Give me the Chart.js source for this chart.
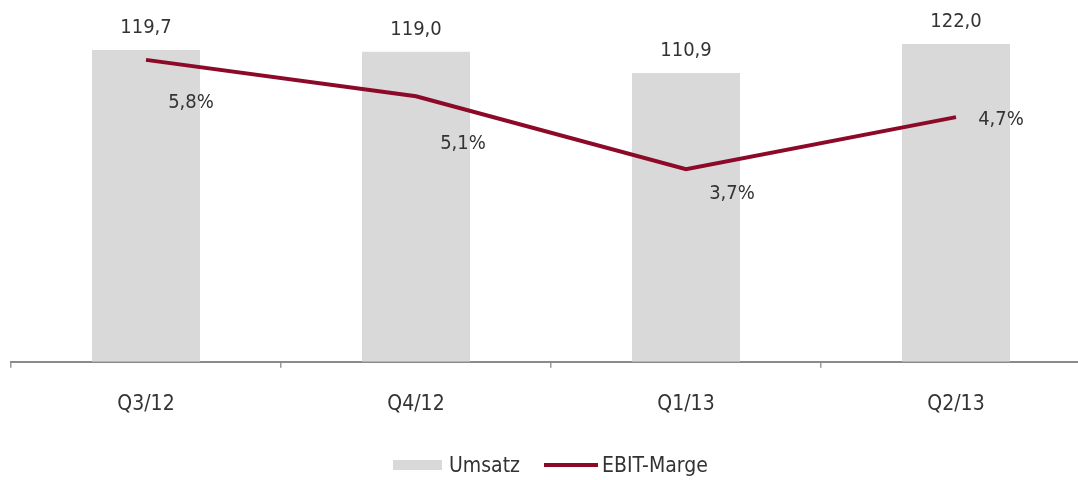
<!DOCTYPE html>
<html><head><meta charset="utf-8">
<script src="https://cdn.jsdelivr.net/npm/chart.js@4/dist/chart.umd.min.js"></script>
<style>
html,body{margin:0;padding:0;background:#fff;overflow:hidden;width:1078px;height:480px;}
#wrap{position:relative;width:1078px;height:480px;overflow:hidden;}
#c{position:absolute;left:0;top:0;}
#legend{position:absolute;top:453px;left:393px;height:24px;display:flex;align-items:center;font-family:"Liberation Sans Narrow","DejaVu Sans Condensed",sans-serif;font-size:21px;color:#333;}
.sw{display:inline-block;margin-right:7px;}
</style></head>
<body><div id="wrap"><canvas id="c" width="1091" height="480"></canvas>
<div id="legend"><span class="sw" style="width:49px;height:10px;background:#d9d9d9"></span><span>Umsatz</span><span class="sw" style="width:54px;height:4px;background:#8c0a28;margin-left:24px;margin-right:4px"></span><span>EBIT-Marge</span></div>
</div>
<script>
const categories = ["Q3/12","Q4/12","Q1/13","Q2/13"];
const umsatz = [119.7,119.0,110.9,122.0];
const ebitMarge = [5.8,5.1,3.7,4.7];
const FONT = '"Liberation Sans Narrow","DejaVu Sans Condensed",sans-serif';
const fmt = (v,d)=> v.toFixed(d).replace('.',',');

const labelPlugin = {
  id:'labels',
  afterDatasetsDraw(chart){
    const ctx = chart.ctx;
    ctx.save();
    ctx.font = '20px '+FONT;
    ctx.fillStyle = '#333';
    ctx.textAlign = 'center';
    ctx.textBaseline = 'middle';
    chart.getDatasetMeta(1).data.forEach((el,i)=>{
      ctx.fillText(fmt(umsatz[i],1), el.x, el.y-22);
    });
    const off = [[45,43],[47,47],[46,25],[45,3]];
    chart.getDatasetMeta(0).data.forEach((el,i)=>{
      ctx.fillText(fmt(ebitMarge[i],1)+'%', el.x+off[i][0], el.y+off[i][1]);
    });
    ctx.restore();
  }
};

new Chart(document.getElementById('c'),{
  data:{
    labels:categories,
    datasets:[
      {type:'line',label:'EBIT-Marge',data:ebitMarge,yAxisID:'y2',borderColor:'#8c0a28',borderWidth:4,pointRadius:0,tension:0,order:0},
      {type:'bar',label:'Umsatz',data:umsatz,yAxisID:'y',backgroundColor:'#d9d9d9',barPercentage:0.4,categoryPercentage:1,order:1}
    ]
  },
  options:{
    responsive:false,animation:false,
    layout:{padding:{left:11,right:0,top:0,bottom:39}},
    plugins:{legend:{display:false},tooltip:{enabled:false}},
    scales:{
      x:{grid:{display:true,drawOnChartArea:false,drawTicks:true,tickLength:6,color:'#999',lineWidth:1.5,offset:true},
         border:{display:true,color:'#8a8a8a',width:2},
         ticks:{padding:24,color:'#333',font:{family:FONT,size:21}}},
      y:{display:false,min:0,max:138.9},
      y2:{display:false,min:0,max:6.95,position:'right'}
    }
  },
  plugins:[labelPlugin]
});
</script></body></html>
